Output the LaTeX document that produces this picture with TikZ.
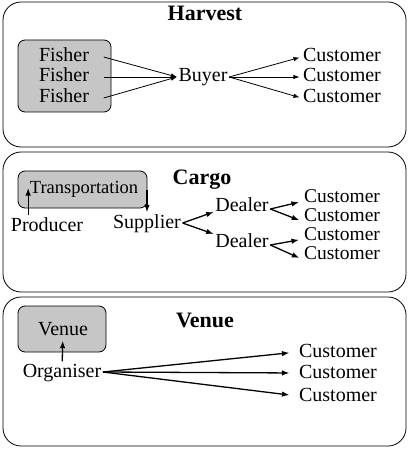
\documentclass[tikz,border=0pt]{standalone}
\usepackage{fontspec}
\setmainfont{Liberation Serif}
\usetikzlibrary{
	positioning,    % nodi relativi
	arrows.meta     % punte di freccia
}

\begin{document}
\begin{tikzpicture}[x=1pt, y=-1pt, >={Latex[length=6pt,width=4.5pt]},
	panel/.style={draw, line width=0.8pt, rounded corners=18pt},
	graybox/.style={draw, fill=gray!45, line width=0.8pt, rounded corners=7pt},
	lbl/.style={inner sep=1.5pt, text height=14pt, text depth=4pt, font=\fontsize{20}{22}\selectfont},
	tight/.style={inner sep=0pt, text height=13pt, text depth=0pt, font=\fontsize{19.5}{20}\selectfont},
	ttl/.style={inner sep=1pt, text height=15pt, text depth=5pt, font=\fontsize{22}{24}\selectfont\bfseries},
	thin arr/.style={->, line width=0.8pt},
	thick arr/.style={-{Latex[length=7.5pt,width=5.5pt]}, line width=1.3pt}]
	\useasboundingbox (0,0) rectangle (409,449);
	
	% --- Harvest ---
	\draw[panel] (3,2) rectangle (406,147);
	\node[ttl] (harvest) at (205,16) {Harvest};
	\draw[graybox] (18,40) rectangle (111,112);
	\node[lbl] (fisherA) at (64,57) {Fisher};
	\node[lbl] (fisherB) at (64,77) {Fisher};
	\node[lbl] (fisherC) at (64,98) {Fisher};
	\node[lbl] (buyer) at (203,77) {Buyer};
	\node[lbl] (hcustA) at (342,57) {Customer};
	\node[lbl] (hcustB) at (342,77) {Customer};
	\node[lbl] (hcustC) at (342,98) {Customer};
	% frecce verso il compratore
	\draw[thin arr] ([xshift=13pt]fisherA.east) -- (buyer.west);
	\draw[thin arr] ([xshift=13pt]fisherB.east) -- (buyer.west);
	\draw[thin arr] ([xshift=13pt]fisherC.east) -- (buyer.west);
	\draw[thin arr, shorten >=2pt] (buyer.east) -- (hcustA.west);
	\draw[thin arr, shorten >=2pt] (buyer.east) -- (hcustB.west);
	\draw[thin arr, shorten >=2pt] (buyer.east) -- (hcustC.west);
	
	% --- Cargo ---
	\draw[panel] (3,152) rectangle (406,292);
	\node[ttl] (cargo) at (202,179) {Cargo};
	\draw[graybox] (18,171) rectangle (147,208);
	\node[lbl, font=\fontsize{18.5}{20}\selectfont] (transport) at (84,188) {Transportation};
	\node[lbl] (producer) at (47,226) {Producer};
	\node[lbl] (supplier) at (147,223) {Supplier};
	\node[lbl] (dealerA) at (242,206) {Dealer};
	\node[lbl] (dealerB) at (242,242) {Dealer};
	\node[lbl, tight] (ccustA) at (342,196) {Customer};
	\node[lbl, tight] (ccustB) at (342,215) {Customer};
	\node[lbl, tight] (ccustC) at (342,234) {Customer};
	\node[lbl, tight] (ccustD) at (342,253) {Customer};
	% trasporto
	\draw[thick arr] (producer.north -| transport.west) -- (transport.west);
	\draw[thick arr] ([yshift=-2pt]supplier.north |- transport.east) -- (supplier.north);
	\draw[thick arr] (supplier.east) -- ([yshift=-6pt]dealerA.west);
	\draw[thick arr] (supplier.east) -- ([yshift=8pt]dealerB.west);
	\draw[thick arr, shorten >=5pt] ([yshift=-3pt]dealerA.east) -- ([yshift=-5pt]ccustA.west);
	\draw[thick arr, shorten >=5pt] ([yshift=-3pt]dealerA.east) -- ([yshift=-7pt]ccustB.west);
	\draw[thick arr, shorten >=5pt] ([yshift=-3pt]dealerB.east) -- ([yshift=-5pt]ccustC.west);
	\draw[thick arr, shorten >=5pt] ([yshift=-3pt]dealerB.east) -- ([yshift=-7pt]ccustD.west);
	
	% --- Venue ---
	\draw[panel] (3,297) rectangle (406,446);
	\node[ttl] (venueT) at (205,322) {Venue};
	\draw[graybox] (18,306) rectangle (106,352);
	\node[lbl] (venue) at (63,330) {Venue};
	\node[lbl] (organiser) at (62,372) {Organiser};
	\node[lbl] (vcustA) at (338,352) {Customer};
	\node[lbl] (vcustB) at (338,373) {Customer};
	\node[lbl] (vcustC) at (338,396) {Customer};
	\draw[thick arr] (organiser) -- (venue);
	\draw[thick arr, shorten >=8pt] (organiser.east) -- (vcustA.west);
	\draw[thick arr, shorten >=8pt] (organiser.east) -- (vcustB.west);
	\draw[thick arr, shorten >=8pt] (organiser.east) -- (vcustC.west);
\end{tikzpicture}
\end{document}
